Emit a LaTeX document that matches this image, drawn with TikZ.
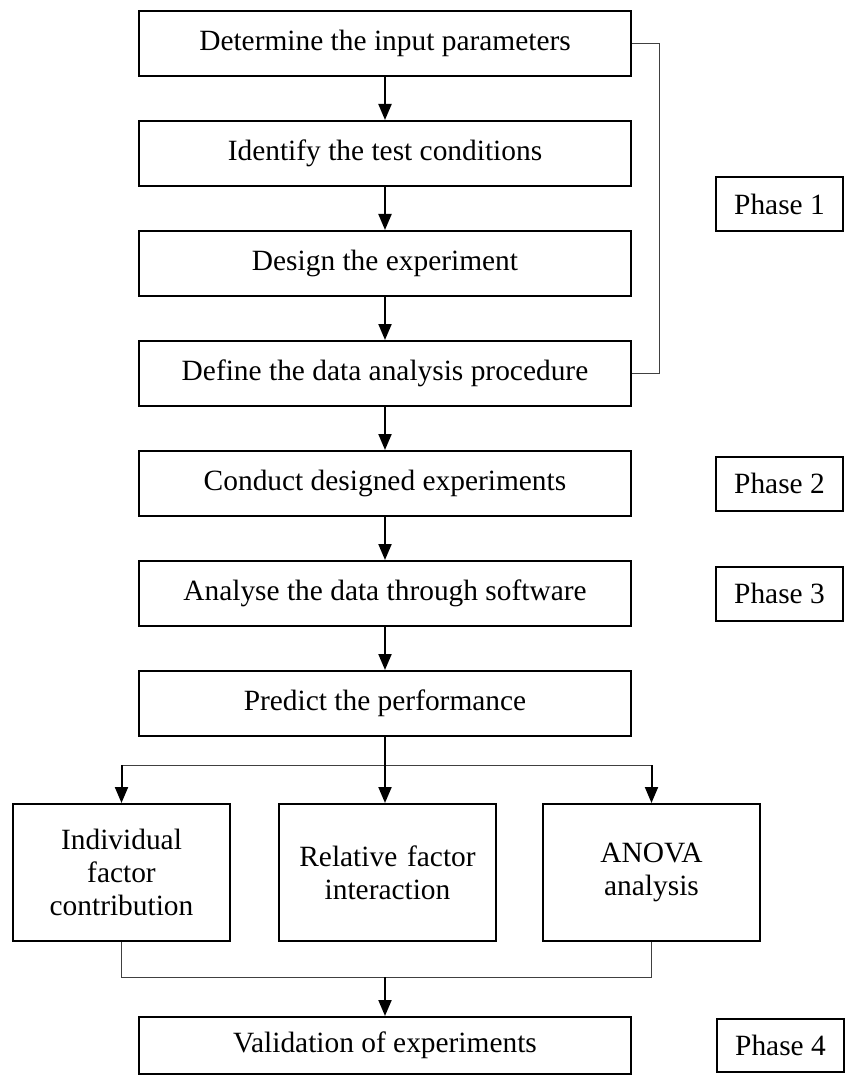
\documentclass[tikz,border=0pt]{standalone}
\usepackage{fontspec}
\setmainfont{Liberation Serif}
\usetikzlibrary{arrows.meta,positioning}

\begin{document}
\begin{tikzpicture}[>={Triangle[width=6.5pt,length=8pt]},font=\fontsize{14.7}{16.5}\selectfont,node distance=21.5pt,every node/.style={align=center},
  stepbox/.style={draw,line width=1pt,minimum width=246pt,minimum height=32.5pt,inner sep=0pt},
  phasebox/.style={draw,line width=1pt,minimum width=63.5pt,minimum height=27pt,inner sep=0pt},
  subbox/.style={draw,line width=1pt,minimum width=108.5pt,minimum height=68.5pt,text width=100pt,inner sep=0pt},
  flow/.style={->,line width=1pt},
  link/.style={line width=0.5pt,draw=black!75}]
  \useasboundingbox (0,0) rectangle (422.5pt,-537.5pt);
  % main column
  \node[stepbox] (input) at (192.5pt,-21.75pt) {Determine the input parameters};
  \node[stepbox,below=of input] (cond) {Identify the test conditions};
  \node[stepbox,below=of cond] (design) {Design the experiment};
  \node[stepbox,below=of design] (proc) {Define the data analysis procedure};
  \node[stepbox,below=of proc] (conduct) {Conduct designed experiments};
  \node[stepbox,below=of conduct] (analyse) {Analyse the data through software};
  \node[stepbox,below=of analyse] (predict) {Predict the performance};
  % three outcomes
  \node[subbox,below=33pt of predict,xshift=1.25pt] (inter) {Relative factor\\interaction};
  \node[subbox,left=23.5pt of inter] (indiv) {Individual\\factor\\contribution};
  \node[subbox,right=22.5pt of inter] (anova) {ANOVA\\analysis};
  \node[stepbox,minimum height=28.5pt,anchor=north] (valid) at (192.5pt,-508pt) {Validation of experiments};
  % phases
  \node[phasebox] (ph1) at (389.75pt,-102pt) {Phase 1};
  \node[phasebox,right=41.5pt of conduct] (ph2) {Phase 2};
  \node[phasebox,right=41.5pt of analyse] (ph3) {Phase 3};
  \node[phasebox,minimum height=26.5pt,right=42pt of valid] (ph4) {Phase 4};
  \draw[flow] (input) -- (cond);
  \draw[flow] (cond) -- (design);
  \draw[flow] (design) -- (proc);
  \draw[flow] (proc) -- (conduct);
  \draw[flow] (conduct) -- (analyse);
  \draw[flow] (analyse) -- (predict);
  \draw[link] (input.east) -- ++(13.5pt,0) |- (proc.east);
  % fork and merge
  \coordinate[below=14pt of predict] (fork);
  \draw[link] (fork -| indiv) -- (fork -| anova);
  \draw[flow] (predict.south) -- (predict.south |- inter.north);
  \draw[flow] (fork -| indiv) -- (indiv);
  \draw[flow] (fork -| anova) -- (anova);
  \coordinate[below=17.5pt of indiv] (merge);
  \draw[link] (indiv.south) -- (merge) -| (anova.south);
  \draw[flow] (merge -| valid) -- (valid);
\end{tikzpicture}
\end{document}
